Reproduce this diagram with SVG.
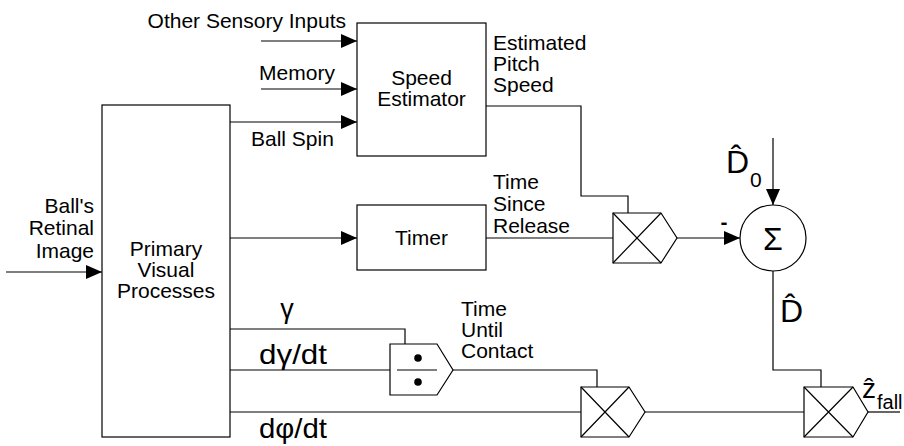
<svg xmlns="http://www.w3.org/2000/svg" width="904" height="446" viewBox="0 0 904 446">
<style>
.ln{fill:none;stroke:#000;stroke-width:1.2}
.bx{fill:#fff;stroke:#000;stroke-width:1.2}
.t{font-family:"Liberation Sans",Arial,sans-serif;font-size:21px;fill:#000}
.m{text-anchor:middle}
.e{text-anchor:end}
</style>
<defs>
<marker id="ah" markerUnits="userSpaceOnUse" markerWidth="16" markerHeight="14" refX="16" refY="7" orient="auto">
<path d="M0,0 L16,7 L0,14 Z" fill="#000"/>
</marker>
</defs>
<g id="connectors">
<line class="ln" x1="6" y1="272" x2="102" y2="272" marker-end="url(#ah)"/>
<line class="ln" x1="261" y1="41" x2="357" y2="41" marker-end="url(#ah)"/>
<line class="ln" x1="261" y1="89" x2="357" y2="89" marker-end="url(#ah)"/>
<line class="ln" x1="230" y1="122" x2="357" y2="122" marker-end="url(#ah)"/>
<line class="ln" x1="230" y1="238" x2="357" y2="238" marker-end="url(#ah)"/>
<polyline class="ln" points="486,106 581,106 581,196 628,196 628,213"/>
<line class="ln" x1="486" y1="238" x2="613" y2="238"/>
<line class="ln" x1="677" y1="238" x2="740" y2="238" marker-end="url(#ah)"/>
<line class="ln" x1="773" y1="138" x2="773" y2="205" marker-end="url(#ah)"/>
<polyline class="ln" points="773,271 773,370 821,370 821,387"/>
<polyline class="ln" points="230,329 405,329 405,344"/>
<line class="ln" x1="230" y1="370" x2="390" y2="370"/>
<line class="ln" x1="230" y1="412" x2="581" y2="412"/>
<polyline class="ln" points="453,370 597,370 597,387"/>
<line class="ln" x1="645" y1="412" x2="804" y2="412"/>
<line class="ln" x1="868" y1="412" x2="900" y2="412"/>
</g>
<g id="primary">
<rect class="bx" x="102" y="105" width="128" height="332"/>
<text class="t m" x="166" y="256">Primary</text>
<text class="t m" x="166" y="277">Visual</text>
<text class="t m" x="166" y="298">Processes</text>
</g>
<g id="speed-estimator">
<rect class="bx" x="357" y="23" width="129" height="133"/>
<text class="t m" x="421.5" y="85">Speed</text>
<text class="t m" x="421.5" y="106">Estimator</text>
</g>
<g id="timer">
<rect class="bx" x="357" y="205" width="129" height="65"/>
<text class="t m" x="421.5" y="245">Timer</text>
</g>
<g id="mult1">
<path class="bx" d="M613,213 H661 L677,238 L661,263 H613 Z"/>
<path class="ln" d="M613,213 L661,263 M613,263 L661,213"/>
</g>
<g id="divider">
<path class="bx" d="M390,344 H437 L453,370 L437,395 H390 Z"/>
<line class="ln" x1="397" y1="370" x2="437" y2="370"/>
<circle cx="418" cy="358" r="3.8" fill="#000"/>
<circle cx="418" cy="382" r="3.8" fill="#000"/>
</g>
<g id="mult2">
<path class="bx" d="M581,387 H629 L645,412 L629,437 H581 Z"/>
<path class="ln" d="M581,387 L629,437 M581,437 L629,387"/>
</g>
<g id="mult3">
<path class="bx" d="M804,387 H853 L868,412 L853,437 H804 Z"/>
<path class="ln" d="M804,387 L853,437 M804,437 L853,387"/>
</g>
<g id="sum">
<circle class="bx" cx="773" cy="238" r="33"/>
<text class="t m" x="773" y="250" style="font-size:32px">Σ</text>
</g>
<g id="labels">
<text class="t e" x="346" y="28">Other Sensory Inputs</text>
<text class="t m" x="297" y="80">Memory</text>
<text class="t" x="251" y="146">Ball Spin</text>
<text class="t e" x="94" y="213">Ball's</text>
<text class="t e" x="94" y="235">Retinal</text>
<text class="t e" x="94" y="258">Image</text>
<text class="t" x="493" y="50">Estimated</text>
<text class="t" x="493" y="71">Pitch</text>
<text class="t" x="493" y="92">Speed</text>
<text class="t" x="493" y="189">Time</text>
<text class="t" x="493" y="211">Since</text>
<text class="t" x="493" y="233">Release</text>
<text class="t" x="461" y="316">Time</text>
<text class="t" x="461" y="337">Until</text>
<text class="t" x="461" y="358">Contact</text>
<text class="t m" x="287" y="318" style="font-size:27px">γ</text>
<text class="t" x="259" y="364" style="font-size:28px" textLength="68" lengthAdjust="spacingAndGlyphs">dγ/dt</text>
<text class="t" x="259" y="438" style="font-size:28px" textLength="68" lengthAdjust="spacingAndGlyphs">dφ/dt</text>
<text class="t m" x="724" y="229" style="font-weight:bold">-</text>
<text class="t" x="726" y="173" style="font-size:32px">D̂<tspan x="750" y="187" style="font-size:21px">0</tspan></text>
<text class="t" x="780" y="322" style="font-size:32px">D̂</text>
<text class="t" x="862" y="398" style="font-size:28px">ẑ<tspan x="877" y="409" style="font-size:20px">fall</tspan></text>
</g>
</svg>
